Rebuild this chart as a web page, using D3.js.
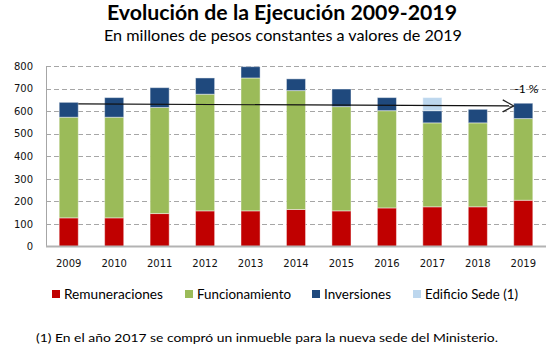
<!DOCTYPE html>
<html>
<head>
<meta charset="utf-8">
<script src="https://cdn.jsdelivr.net/npm/d3@7"></script>
<style>
  html, body { margin: 0; padding: 0; background: #fff; }
  svg { display: block; }
</style>
</head>
<body>
<svg id="chart" width="558" height="352"></svg>
<script>
// ---- data ----
const years = ["2009","2010","2011","2012","2013","2014","2015","2016","2017","2018","2019"];
const remuneraciones = [127,127,146,158,158,164,158,171,176,176,205];
const funcionamiento = [446,446,470,517,589,527,462,431,372,372,362];
const inversiones    = [66,87,88,72,50,52,78,58,54,60,68];
const edificioSede   = [0,0,0,0,0,0,0,0,58,0,0];
const seriesNames = ["Remuneraciones","Funcionamiento","Inversiones","Edificio Sede (1)"];
const seriesColors = ["#C00000","#9BBB59","#1F497D","#BDD7EE"];
const yTicks = [0,100,200,300,400,500,600,700,800];
const trend = [{year:"2009", value:632},{year:"2019", value:623}];
const trendLabel = "-1 %";
const titleText = "Evolución  de la Ejecución  2009-2019";
const subtitleText = "En millones de pesos constantes a valores de 2019";
const footnoteText = "(1) En el año 2017 se compró un inmueble para la nueva sede del Ministerio.";

(function () {
const svg = d3.select("#chart");
const pLeft = 46, pRight = 546, pTop = 66, pBottom = 246.5;

const x = d3.scaleBand().domain(years).range([pLeft, pRight]).paddingInner(0.58).paddingOuter(0.29);
const y = d3.scaleLinear().domain([0, 800]).range([pBottom, pTop]);

// title
svg.append("text").attr("x", 107).attr("y", 20)
  .attr("textLength", 350).attr("lengthAdjust", "spacingAndGlyphs")
  .style("font-family", "Lato, 'Open Sans', sans-serif").style("font-weight", "bold")
  .style("font-size", "20px").attr("fill", "#000").text(titleText);
svg.append("text").attr("x", 104).attr("y", 41)
  .attr("textLength", 358).attr("lengthAdjust", "spacingAndGlyphs")
  .style("font-family", "Lato, 'Open Sans', sans-serif")
  .style("font-size", "16px").attr("fill", "#000").text(subtitleText);

// gridlines
svg.append("g").selectAll("line").data(yTicks.filter(d => d > 0)).join("line")
  .attr("x1", pLeft).attr("x2", pRight)
  .attr("y1", d => Math.round(y(d)) + 0.5).attr("y2", d => Math.round(y(d)) + 0.5)
  .attr("stroke", "#a6a6a6").attr("stroke-width", 1).attr("stroke-dasharray", "5,3");

// y axis
const yAxis = d3.axisLeft(y).tickValues(yTicks).tickSize(0).tickPadding(13);
const gy = svg.append("g").attr("transform", `translate(${pLeft},0)`).call(yAxis);
gy.select(".domain").attr("stroke", "#a6a6a6").attr("d", `M0.5,${pTop}V${pBottom}`);
gy.selectAll("text").style("font-family", "'DejaVu Sans', Verdana, sans-serif")
  .style("font-size", "10px").attr("fill", "#111");

// stacked bars
const rows = years.map((yr, i) => ({year: yr, s0: remuneraciones[i], s1: funcionamiento[i], s2: inversiones[i], s3: edificioSede[i]}));
const stacked = d3.stack().keys(["s0","s1","s2","s3"])(rows);
svg.append("g").selectAll("g").data(stacked).join("g")
  .attr("fill", (d, i) => seriesColors[i])
  .selectAll("rect").data(d => d.filter(p => p[1] - p[0] > 0)).join("rect")
  .attr("x", d => x(d.data.year)).attr("width", x.bandwidth())
  .attr("y", d => y(d[1])).attr("height", d => y(d[0]) - y(d[1]))
  .attr("stroke", "rgba(255,255,255,0.45)").attr("stroke-width", 1);

// x axis
const xAxis = d3.axisBottom(x).tickSize(0).tickPadding(13);
const gx = svg.append("g").attr("transform", `translate(0,${pBottom})`).call(xAxis);
gx.select(".domain").attr("stroke", "#b3b3b3").attr("stroke-width", 2).attr("d", `M${pLeft},0H${pRight}`);
gx.selectAll("text").style("font-family", "'DejaVu Sans', Verdana, sans-serif")
  .style("font-size", "10px").attr("fill", "#111");

// trend arrow
const x0 = x(trend[0].year) + x.bandwidth();
const x1 = x(trend[1].year);
const ty0 = y(trend[0].value), ty1 = y(trend[1].value);
svg.append("line").attr("x1", x0).attr("y1", ty0).attr("x2", x1).attr("y2", ty1)
  .attr("stroke", "#111").attr("stroke-width", 1.2);
const ang = Math.atan2(ty1 - ty0, x1 - x0);
const hl = 11, hw = 6;
const p1 = [x1 - hl * Math.cos(ang) + hw * Math.sin(ang), ty1 - hl * Math.sin(ang) - hw * Math.cos(ang)];
const p2 = [x1 - hl * Math.cos(ang) - hw * Math.sin(ang), ty1 - hl * Math.sin(ang) + hw * Math.cos(ang)];
svg.append("path").attr("d", `M${p1[0]},${p1[1]}L${x1},${ty1}L${p2[0]},${p2[1]}`)
  .attr("fill", "none").attr("stroke", "#222").attr("stroke-width", 1.2);
svg.append("text").attr("x", x1 + 0.5).attr("y", ty1 - 13)
  .style("font-family", "Lato, 'Open Sans', sans-serif").style("font-size", "12px")
  .attr("fill", "#000").text(trendLabel);

// legend
const legX = [52, 185, 312, 413];
const legW = [99, 94, 67, 93];
const lg = svg.append("g").selectAll("g").data(seriesNames).join("g")
  .attr("transform", (d, i) => `translate(${legX[i]},294)`);
lg.append("rect").attr("x", 0).attr("y", -4).attr("width", 8).attr("height", 8)
  .attr("fill", (d, i) => seriesColors[i]);
lg.append("text").attr("x", 12).attr("y", 4.5)
  .attr("textLength", (d, i) => legW[i]).attr("lengthAdjust", "spacingAndGlyphs")
  .style("font-family", "Lato, 'Open Sans', sans-serif").style("font-size", "13px")
  .attr("fill", "#000").text(d => d);

// footnote
svg.append("text").attr("x", 36).attr("y", 342)
  .attr("textLength", 462).attr("lengthAdjust", "spacingAndGlyphs")
  .style("font-family", "Lato, 'Open Sans', sans-serif").style("font-size", "12px")
  .attr("fill", "#000").text(footnoteText);
})();
</script>
</body>
</html>
